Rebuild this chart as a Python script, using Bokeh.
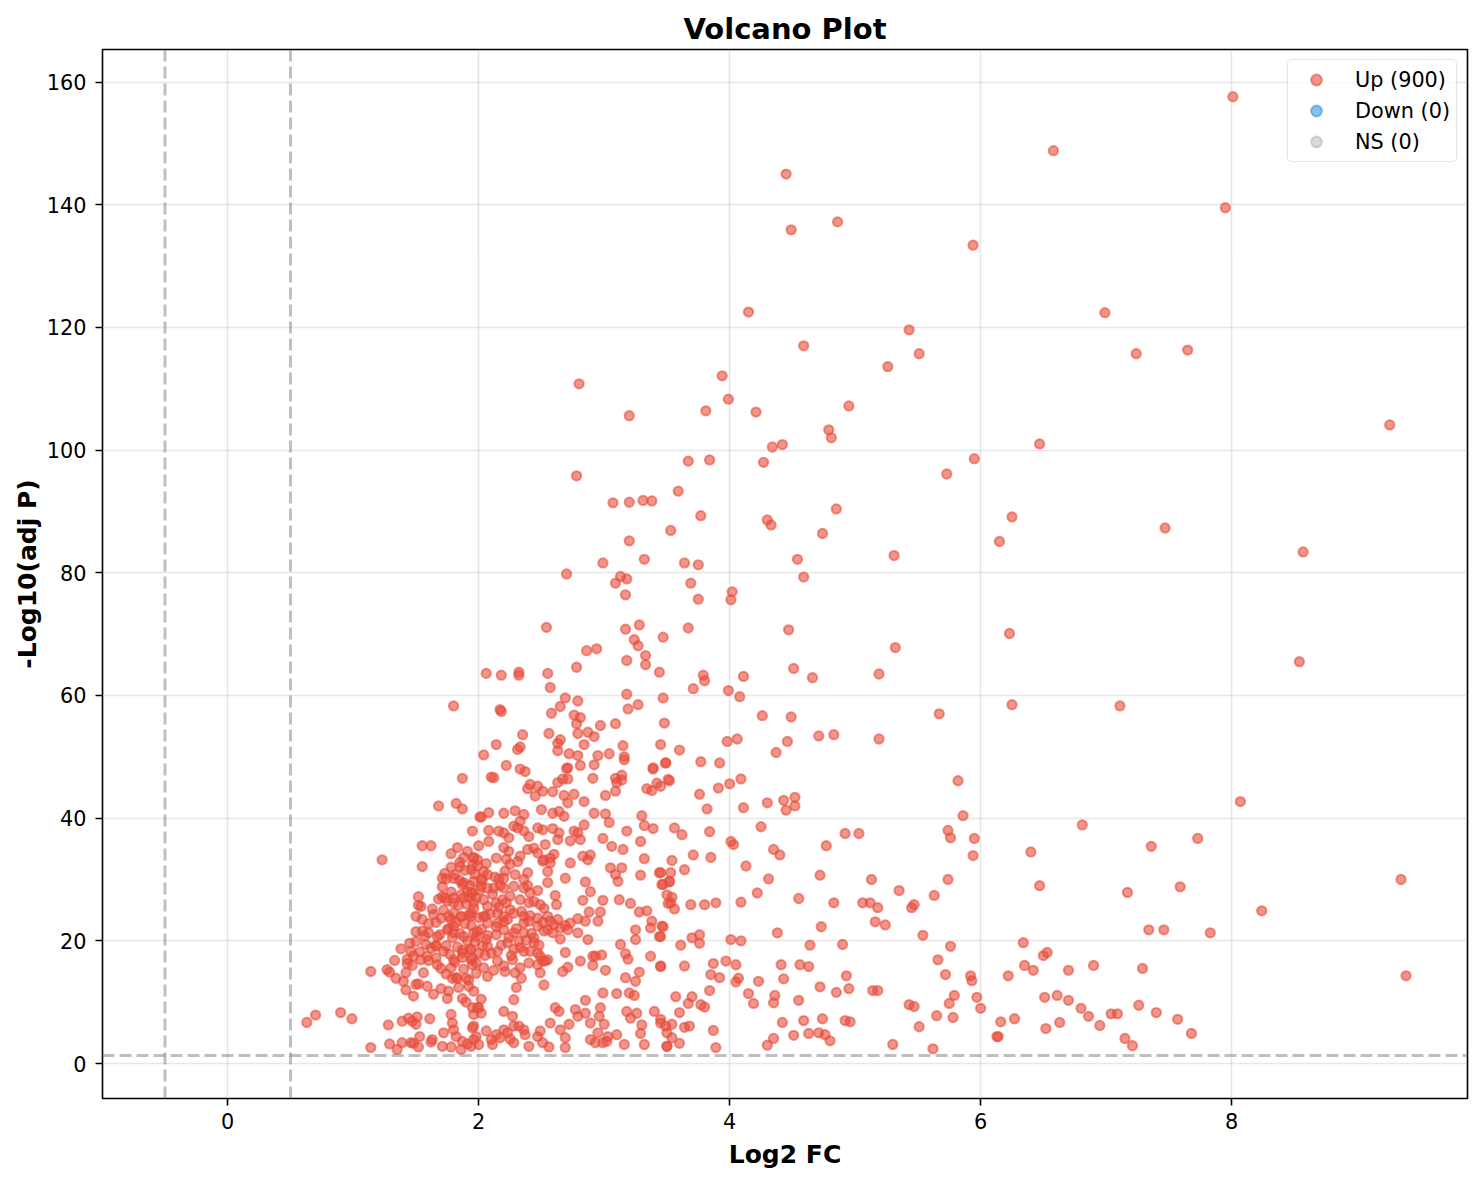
from bokeh.plotting import figure
from bokeh.models import Span, Range1d, Legend, LegendItem, FixedTicker
from bokeh.embed import file_html
from bokeh.resources import INLINE

# ---------------- data (Log2 FC, -Log10 adj P) ----------------
up_top = [(8.01,157.6),(6.58,148.8),(4.45,145.0),(7.95,139.5),(4.86,137.2),(4.49,135.9),(5.94,133.4),
 (4.15,122.5),(6.99,122.4),(5.43,119.6),(4.59,117.0),(7.65,116.3),(7.24,115.7),(5.51,115.7),(5.26,113.6),
 (3.94,112.1),(2.80,110.8),(3.99,108.3),(4.95,107.2),(3.81,106.4),(4.21,106.2),(3.20,105.6),(9.26,104.1),
 (4.79,103.3),(4.81,102.0),(6.47,101.0),(4.42,100.9),(4.34,100.5),(3.67,98.2),(3.84,98.4),(4.27,98.0),
 (5.95,98.6),(2.78,95.8),(5.73,96.1),(3.59,93.3),(3.07,91.4),(3.20,91.5),(3.31,91.8),(3.38,91.7),(4.85,90.4),
 (3.77,89.3),(6.25,89.1),(4.30,88.6),(4.33,87.8),(7.47,87.3),(3.53,86.9),(4.74,86.4),(3.20,85.2),(6.15,85.1),
 (8.57,83.4),(5.31,82.8),(4.54,82.2),(3.32,82.2),(2.99,81.6),(3.64,81.6),(3.75,81.3),(2.70,79.8)]

up_mid = [(4.59,79.3),(3.18,79.0),(3.13,79.4),(3.09,78.3),(3.17,76.4),(3.69,78.3),(4.02,76.9),(4.01,75.6),
 (3.75,75.7),(2.54,71.1),(3.17,70.8),(3.28,71.5),(3.67,71.0),(4.47,70.7),(6.23,70.1),(3.47,69.5),(3.24,69.1),
 (3.27,68.1),(2.86,67.3),(2.94,67.6),(5.32,67.8),(3.18,65.7),(3.33,66.5),(3.33,65.0),(8.54,65.5),(2.78,64.6),
 (4.51,64.4),(3.44,63.8),(2.06,63.6),(2.18,63.3),(2.32,63.8),(2.32,63.3),(2.55,63.6),(3.79,63.3),(3.80,62.4),
 (4.11,63.1),(4.66,62.9),(5.19,63.5),(2.57,61.3),(3.71,61.1),(3.99,60.8),(4.08,59.8),(3.18,60.2),(3.47,59.6),
 (2.69,59.6),(2.79,59.1),(1.80,58.3),(2.17,57.7),(2.18,57.4),(2.65,58.2),(3.19,57.8),(3.27,58.5),(6.25,58.5),
 (7.11,58.3),(2.58,57.1),(2.76,56.8),(2.81,56.4),(5.67,57.0),(4.26,56.7),(4.49,56.5),(2.78,55.4),(2.97,55.1),
 (3.09,55.4),(3.48,55.5),(2.35,53.6),(2.56,53.8),(2.79,53.8),(2.87,54.0),(2.92,53.3),(4.71,53.4),(4.83,53.6),
 (5.19,52.9),(4.06,52.9),(2.14,52.0),(2.33,51.6),(2.31,51.2),(2.63,52.2),(2.65,52.8),(2.63,51.0),(2.84,52.0),
 (3.15,51.8),(3.45,52.0),(3.98,52.5),(4.46,52.5),(3.60,51.1),(2.04,50.3),(2.72,50.5),(2.79,50.2),(2.95,50.2),
 (3.04,50.5),(3.16,50.0),(4.37,50.7),(2.71,48.2),(3.49,49.0),(3.77,49.2),(3.92,49.0),(3.39,48.2)]

up_right = [(5.82,46.1),(8.07,42.7),(5.86,40.4),(6.81,38.9),(5.74,38.0),(5.76,36.8),(5.95,36.7),(7.73,36.7),
 (7.36,35.4),(6.40,34.5),(4.92,37.5),(5.03,37.5),(5.94,33.9),(4.77,35.5),(5.74,30.0),(5.13,30.0),(6.47,29.0),
 (7.59,28.8),(9.35,30.0),(9.39,14.3),(5.35,28.2),(5.63,27.4),(7.17,27.9),(8.24,24.9),(7.46,21.8),(7.34,21.8),
 (7.83,21.3),(6.34,19.7),(6.53,18.1),(6.50,17.6),(6.35,16.0),(6.42,15.2),(6.90,16.0),(7.29,15.5),(6.70,15.2),
 (6.22,14.3),(5.92,14.3),(5.93,13.5),(6.51,10.8),(6.61,11.1),(6.70,10.3),(6.80,9.0),(7.26,9.5),(7.40,8.3),
 (6.86,7.7),(6.95,6.2),(7.09,8.1),(7.04,8.1),(7.57,7.2),(7.68,4.9),(7.15,4.1),(7.21,2.9),(6.27,7.3),(6.16,6.8),
 (6.63,6.7),(6.52,5.7),(5.97,10.8),(6.00,9.0),(6.14,4.4),(6.13,4.4),(5.79,11.1),(5.75,9.8),(5.78,7.5),(5.65,7.8),
 (5.51,6.0),(5.43,9.6),(5.47,9.3),(5.66,16.9),(5.72,14.5),(5.62,2.4),(5.30,3.1),(5.54,20.9),(5.76,19.1),
 (5.47,25.9),(5.45,25.4),(5.18,25.4),(5.24,22.6),(5.16,23.1),(5.12,26.2),(5.06,26.2),(5.18,11.9),(5.14,11.9),
 (4.95,12.2),(4.93,14.3),(4.90,19.4),(4.96,6.8),(4.92,7.0),(4.85,11.6),(4.76,4.7),(4.80,3.7)]

up_centre = [(3.45,45.2),(3.52,46.1),(3.76,43.9),(3.91,44.9),(4.00,45.6),(4.09,46.4),(3.82,41.5),(4.11,41.7),
 (4.30,42.5),(4.43,42.9),(4.45,41.3),(4.52,43.4),(4.52,42.0),(3.56,38.4),(3.62,37.3),(3.84,37.8),(4.25,38.6),
 (4.01,36.2),(4.03,35.7),(4.35,34.9),(4.40,34.0),(3.54,33.1),(3.71,34.0),(3.85,33.6),(3.64,31.6),(3.45,31.1),
 (3.53,31.1),(3.47,29.2),(3.52,29.6),(4.13,32.2),(4.72,30.7),(4.31,30.1),(4.55,26.9),(4.83,26.2),(4.22,27.8),
 (4.09,26.3),(3.54,27.1),(3.51,26.1),(3.56,25.2),(3.69,25.9),(3.80,25.9),(3.89,26.2),(4.73,22.3),(4.38,21.3),
 (3.47,22.3),(3.45,20.7),(3.61,19.3),(3.70,20.5),(3.76,21.0),(3.76,19.6),(4.01,20.2),(4.09,20.0),(4.64,19.3),
 (3.45,15.9),(3.64,15.9),(3.87,16.3),(3.97,16.7),(4.05,16.1),(3.85,14.5),(3.92,14.0),(4.05,13.3),(4.07,13.9),
 (4.23,13.4),(4.41,16.1),(4.56,16.1),(4.63,15.8),(4.43,13.8),(4.72,12.5),(3.84,11.9),(3.57,10.9),(3.70,10.9),
 (3.67,9.8),(3.77,9.6),(3.80,9.2),(4.15,11.4),(4.19,9.8),(4.35,9.9),(4.36,11.1),(4.55,10.3),(3.60,8.3),(3.45,7.2),
 (3.54,6.4),(3.64,5.9),(3.68,6.1),(3.87,5.4),(3.50,5.0),(3.54,4.2),(3.60,3.3),(3.50,2.8),(3.89,2.6),(4.42,6.7),
 (4.59,7.0),(4.74,7.3),(4.35,4.1),(4.30,3.0),(4.51,4.6),(4.63,4.9),(4.71,5.0)]

up_core = [(2.22,48.6),(2.33,48.0),(2.37,47.6),(2.70,48.1),(2.81,48.6),(2.92,48.7),(3.16,49.5),(3.39,48.0),
 (3.49,49.0),(2.10,46.7),(2.12,46.6),(2.41,45.5),(2.39,44.8),(2.47,45.2),(2.45,43.6),(2.51,44.4),(2.59,44.3),
 (2.63,45.8),(2.67,46.4),(2.71,46.4),(2.91,46.5),(3.09,46.5),(3.10,45.8),(3.14,46.2),(3.14,47.0),(3.09,44.4),
 (3.01,43.7),(3.34,44.8),(3.38,44.5),(3.42,45.7),(3.51,46.3),(2.68,43.7),(2.71,42.5),(2.76,43.9),(2.84,42.7),
 (2.02,40.2),(2.08,40.9),(2.20,40.8),(2.29,41.2),(2.36,40.6),(2.50,41.4),(2.59,40.8),(2.64,41.1),(2.68,40.3),
 (2.92,40.8),(3.01,40.7),(3.04,39.3),(3.30,40.4),(3.32,38.8),(3.39,38.3),(2.33,39.5),(2.28,38.7),(2.08,38.0),
 (2.16,37.9),(2.20,37.6),(2.24,36.8),(2.31,38.4),(2.36,37.9),(2.40,37.0),(2.47,38.4),(2.51,38.1),(2.59,38.3),
 (2.64,37.6),(2.63,36.5),(2.73,36.3),(2.79,37.6),(2.81,36.5),(2.84,38.9),(2.76,37.9),(2.99,36.7),(3.06,35.4),
 (3.18,37.9),(3.29,36.2),(3.15,34.9),
 (1.96,33.5),(1.99,32.2),(2.04,31.3),(2.07,30.8),(2.20,35.2),(2.24,34.6),(2.22,33.3),(2.25,32.5),(2.31,32.9),
 (2.33,33.8),(2.39,34.9),(2.44,35.1),(2.47,34.3),(2.53,35.7),(2.52,33.2),(2.60,34.1),(2.57,33.5),(2.51,33.0),
 (2.57,32.7),(2.73,32.7),(2.83,33.8),(2.87,33.2),(2.89,34.0),(3.05,31.9),(3.09,30.8),(3.11,29.7),(3.14,31.9),
 (3.29,30.7),(3.32,33.4),(3.44,31.1),(3.46,29.2),(3.52,29.7),(2.55,31.3),(2.69,30.2),(2.85,29.6),(2.39,31.1),
 (2.29,30.8),(2.36,30.0),(2.20,30.2),(2.16,30.1),(2.02,30.0),
 (1.94,27.8),(2.02,28.9),(2.07,28.6),(2.12,28.6),(2.20,28.6),(2.28,28.9),(2.39,29.0),(2.47,28.2),(2.55,29.5),
 (2.36,28.6),(2.41,27.8),(2.25,27.3),(2.14,26.2),(2.07,25.6),(2.19,26.7),(2.25,25.1),(2.33,26.7),(2.40,26.2),
 (2.49,25.9),(2.61,27.4),(2.62,25.9),(2.83,26.6),(2.89,28.0),(2.99,26.6),(3.12,26.7),(3.21,26.1),(3.28,24.7),
 (3.34,24.9),(3.50,27.5),(3.53,26.2),(1.96,26.2),(1.94,24.0),(2.04,24.0),(2.15,24.5),(2.20,24.0),(2.28,24.5),
 (2.36,24.0),(2.41,24.1),(2.47,23.7),(2.55,24.0),
 (2.07,22.9),(2.15,22.9),(2.23,23.5),(2.36,22.9),(2.40,23.2),(2.47,22.4),(2.51,23.0),(2.55,21.8),(2.60,22.6),
 (2.65,22.1),(2.57,23.2),(2.63,23.5),(2.69,22.5),(2.73,22.9),(2.79,23.6),(2.85,23.2),(2.88,24.7),(2.95,23.2),
 (2.97,24.7),(2.87,20.2),(2.79,21.3),(2.71,21.8),(2.65,20.3),(2.59,21.3),(2.52,21.6),(2.44,20.5),(2.36,21.3),
 (2.28,21.3),(2.20,21.8),(2.14,21.0),(2.06,20.2),(1.98,20.7),(1.94,18.6),(2.00,18.0),(2.07,19.1),(2.15,18.3),
 (2.23,19.7),(2.28,18.6),(2.33,18.9),(2.36,18.3),(2.44,19.7),(2.47,18.0),(2.41,18.3),(2.49,17.5),(2.53,16.7),
 (3.38,23.2),(3.37,22.1),(3.46,22.4),(3.25,21.8),(3.25,20.2),(3.44,20.7),(3.13,19.4),(3.17,17.9),(3.19,17.0),
 (1.94,16.9),(1.98,16.4),(2.04,15.6),(2.07,14.2),(2.15,16.7),(2.20,15.9),(2.27,16.9),(2.33,15.6),(2.21,15.0),
 (2.29,14.8),(2.40,16.4),(2.47,16.1),(2.49,14.8),(2.51,16.7),(2.55,16.9),(2.69,18.1),(2.67,15.0),(2.81,16.7),
 (2.71,15.7),(2.91,17.5),(2.93,17.5),(2.98,17.7),(2.91,16.0),(3.01,15.2),(3.17,14.0),(3.25,13.4),(3.28,14.9),
 (3.37,17.5),(3.45,15.8),(2.34,13.9),(2.30,12.4),(2.52,12.8),(2.28,10.4),(2.85,10.3),(2.99,11.5),(3.10,11.4),
 (3.20,11.5),(3.24,11.1),
 (1.95,9.1),(2.00,9.1),(2.02,8.2),(1.96,6.1),(2.06,5.3),(1.98,4.4),(1.94,2.8),(2.00,3.1),(2.14,4.7),(2.20,8.5),
 (2.27,7.7),(2.28,6.1),(2.20,5.5),(2.23,5.0),(2.17,4.2),(2.25,4.0),(2.28,3.4),(2.32,6.1),(2.36,5.5),(2.37,4.7),
 (2.40,2.8),(2.47,4.4),(2.51,3.4),(2.49,5.3),(2.57,6.6),(2.61,9.1),(2.64,8.5),(2.65,5.5),(2.69,4.2),(2.72,6.4),
 (2.77,8.8),(2.79,7.7),(2.85,8.2),(2.89,6.6),(2.95,5.0),(2.96,7.7),(2.97,9.1),(3.00,6.4),(3.03,4.4),(2.99,3.4),
 (3.02,3.6),(2.89,3.9),(2.93,3.4),(3.10,4.7),(3.16,3.1),(3.21,7.4),(3.26,8.2),(3.30,6.3),(3.29,4.9),(3.32,3.1),
 (3.18,8.5),(3.40,8.5),(3.45,6.6),(3.49,6.1),(3.50,2.8),(2.56,2.7),(2.69,2.6),(2.10,3.9),(2.11,3.1)]

up_left = [(1.87,46.5),(1.68,42.0),(1.82,42.4),(1.87,41.5),(2.01,40.2),(1.55,35.5),(1.62,35.5),(1.23,33.2),
 (1.55,32.1),(1.88,33.6),(1.96,33.6),(1.78,32.0),(1.85,32.1),(1.71,30.2),(1.74,30.1),(1.80,30.2),(1.94,31.6),
 (1.87,29.2),(1.96,29.7),(1.52,27.2),(1.54,25.6),(1.50,24.0),(1.64,24.3),(1.71,27.2),(1.80,26.2),(1.88,27.0),
 (1.95,27.8),(1.70,23.7),(1.78,23.5),(1.86,24.0),(1.94,24.5),(1.55,21.6),(1.60,21.3),(1.67,20.7),(1.75,21.8),
 (1.80,21.3),(1.88,20.7),(1.96,21.3),(1.50,19.9),(1.58,19.4),(1.38,18.7),(1.46,18.3),(1.48,17.5),(1.54,16.9),
 (1.59,17.5),(1.66,19.1),(1.72,18.3),(1.80,16.9),(1.87,18.0),(1.95,17.2),(1.67,16.1),(1.33,16.8),(1.43,16.3),
 (1.42,14.8),(1.34,13.9),(1.40,13.4),(1.42,12.0),(1.50,12.9),(1.27,15.3),(1.29,14.9),(1.14,15.0),(1.78,15.6),
 (1.79,13.9),(1.83,13.9),(1.90,13.9),(1.92,12.6),(1.75,10.6),(1.87,10.6),(1.99,9.1),(0.63,6.7),(0.70,7.9),
 (0.90,8.3),(0.99,7.3),(1.28,6.3),(1.39,6.9),(1.44,7.4),(1.47,6.9),(1.51,7.6),(1.50,6.4),(1.61,7.3),(1.78,8.0),
 (1.79,6.6),(1.96,8.0),(1.80,5.5),(1.95,5.8),(1.72,5.0),(1.82,4.4),(1.53,4.4),(1.63,3.9),(1.62,3.5),(1.87,3.6),
 (1.96,3.9),(1.29,3.2),(1.39,3.4),(1.46,3.4),(1.48,3.3),(1.52,2.7),(1.14,2.6),(1.35,2.3),(1.71,2.8),(1.78,2.7),
 (1.86,2.3),(1.91,3.2)]

up_dense = [(1.72,25.0),(1.75,26.5),(1.78,28.0),(1.80,24.5),(1.82,23.0),(1.84,25.8),(1.86,27.5),(1.88,29.5),
 (1.90,26.0),(1.92,24.2),(1.94,22.5),(1.96,25.3),(1.98,27.0),(2.00,23.8),(2.02,21.9),(1.76,22.0),(1.79,20.5),
 (1.83,19.0),(1.85,21.2),(1.89,22.8),(1.91,20.0),(1.93,18.6),(1.97,19.8),(1.99,21.5),(2.03,19.2),(1.74,19.2),
 (1.77,17.8),(1.81,16.5),(1.87,17.3),(1.95,16.1),(1.71,28.8),(1.73,31.0),(1.81,30.8),(1.85,32.8),(1.89,31.5),
 (1.93,29.0),(1.97,30.9),(2.01,28.3),(2.04,26.7),(1.69,21.0),(1.66,23.0),(1.63,25.2),(1.60,22.8),(1.57,20.8),
 (1.62,18.8),(1.66,17.2),(1.70,15.5),(1.74,14.6),(1.82,14.0),(1.88,15.4),(1.92,13.6),(1.98,14.7),(2.05,17.6),
 (2.07,20.9),(2.09,24.4),(2.11,27.6),(2.13,30.4),(2.06,32.6),(2.10,18.0),(2.12,15.2),(2.14,22.3),(2.16,25.5),
 (2.18,19.3),(2.20,23.1),(2.22,26.2),(2.24,20.6),(2.26,17.6),(2.30,22.0),(2.32,19.9),(2.34,24.8),(2.38,20.1),
 (2.42,21.2),(2.44,26.4),(2.48,19.3),(2.52,25.3),(1.53,18.2),(1.50,21.5),(1.47,16.0),(1.45,19.6),(1.43,17.0),
 (1.56,14.8),(1.59,12.6),(1.52,13.0),(1.48,11.0),(1.64,11.3),(1.70,12.2),(1.76,11.8),(1.84,12.4),(1.90,10.0),
 (1.96,11.8),(2.02,10.5),(1.78,34.2),(1.83,35.2),(1.91,34.6),(2.00,35.5),(1.95,37.9),(2.08,36.2),(2.14,33.5),
 (2.17,29.0),(2.21,31.4),(1.87,18.5),(1.80,27.0),(1.85,29.8),(1.91,28.0),(1.95,32.4),(2.03,30.0),(1.99,33.2),
 (2.05,24.0),(1.93,27.1),(1.86,23.9),(1.80,22.4),(1.76,24.0),(1.73,27.0),(1.68,26.8),(1.66,19.3),(1.60,16.8),
 (1.55,23.5),(1.52,25.8)]

# the Down and NS groups are empty (0 genes); a NaN placeholder keeps their legend swatch
down_x, down_y = [float("nan")], [float("nan")]
ns_x, ns_y = [float("nan")], [float("nan")]

legend_labels = ["Up (900)", "Down (0)", "NS (0)"]
x_ticks = [0, 2, 4, 6, 8]
y_ticks = [0, 20, 40, 60, 80, 100, 120, 140, 160]
fc_threshold = 0.5
p_threshold_line = 1.301  # -log10(0.05)

up_all = up_top + up_mid + up_right + up_centre + up_core + up_left + up_dense
up_x = [pt[0] for pt in up_all]
up_y = [pt[1] for pt in up_all]

FONT = "DejaVu Sans"

p = figure(width=1478, height=1172, output_backend="svg", toolbar_location=None,
           x_range=Range1d(-0.998, 9.88), y_range=Range1d(-5.7, 165.3),
           min_border_left=102, min_border_right=11, min_border_top=49, min_border_bottom=74,
           background_fill_color="white", border_fill_color="white")

p.title.text = "Volcano Plot"
p.title.align = "center"
p.title.text_font = FONT
p.title.text_font_size = "29px"
p.title.text_font_style = "bold"
p.title.text_color = "black"
p.title.standoff = 8

p.outline_line_color = "black"
p.outline_line_width = 1.6

for ax in (p.xaxis[0], p.yaxis[0]):
    ax.axis_line_color = None
    ax.major_tick_line_color = "black"
    ax.major_tick_line_width = 1.6
    ax.major_tick_out = 7
    ax.major_tick_in = 0
    ax.minor_tick_line_color = None
    ax.major_label_text_font = FONT
    ax.major_label_text_font_size = "20.8px"
    ax.major_label_text_color = "black"
    ax.major_label_standoff = 7
    ax.axis_label_text_font = FONT
    ax.axis_label_text_font_size = "25px"
    ax.axis_label_text_font_style = "bold"
    ax.axis_label_text_color = "black"
    ax.axis_label_standoff = 8

p.yaxis[0].major_label_standoff = 9
p.yaxis[0].axis_label_standoff = 2

p.xaxis.axis_label = "Log2 FC"
p.yaxis.axis_label = "-Log10(adj P)"
p.xaxis.ticker = FixedTicker(ticks=x_ticks)
p.yaxis.ticker = FixedTicker(ticks=y_ticks)

p.grid.grid_line_color = "#b0b0b0"
p.grid.grid_line_alpha = 0.3
p.grid.grid_line_width = 1.6

for xv in (-fc_threshold, fc_threshold):
    p.add_layout(Span(location=xv, dimension="height", line_color="gray", line_alpha=0.5,
                      line_width=3, line_dash="12 5"))
p.add_layout(Span(location=p_threshold_line, dimension="width", line_color="gray", line_alpha=0.5,
                  line_width=3, line_dash="12 5"))

r_up = p.scatter(x=up_x, y=up_y, size=9.3, fill_color="#e74c3c", line_color="#e74c3c",
                 fill_alpha=0.6, line_alpha=0.6, line_width=2)
r_down = p.scatter(x=down_x, y=down_y, size=9.3, fill_color="#3498db", line_color="#3498db",
                   fill_alpha=0.6, line_alpha=0.6, line_width=2)
r_ns = p.scatter(x=ns_x, y=ns_y, size=9.3, fill_color="#95a5a6", line_color="#95a5a6",
                 fill_alpha=0.4, line_alpha=0.4, line_width=2)

legend = Legend(items=[LegendItem(label=legend_labels[0], renderers=[r_up], index=0),
                       LegendItem(label=legend_labels[1], renderers=[r_down], index=0),
                       LegendItem(label=legend_labels[2], renderers=[r_ns], index=0)],
                location="top_right")
legend.label_text_font = FONT
legend.label_text_font_size = "20.8px"
legend.label_text_color = "black"
legend.padding = 6
legend.margin = 10
legend.glyph_width = 44
legend.glyph_height = 27
legend.label_height = 27
legend.spacing = 4
legend.label_standoff = 17
legend.border_line_color = "#cccccc"
legend.border_line_width = 1.6
legend.background_fill_alpha = 0.8
try:
    legend.border_radius = 5
except Exception:
    pass
p.add_layout(legend)

open("out.html", "w").write(file_html(p, INLINE))
